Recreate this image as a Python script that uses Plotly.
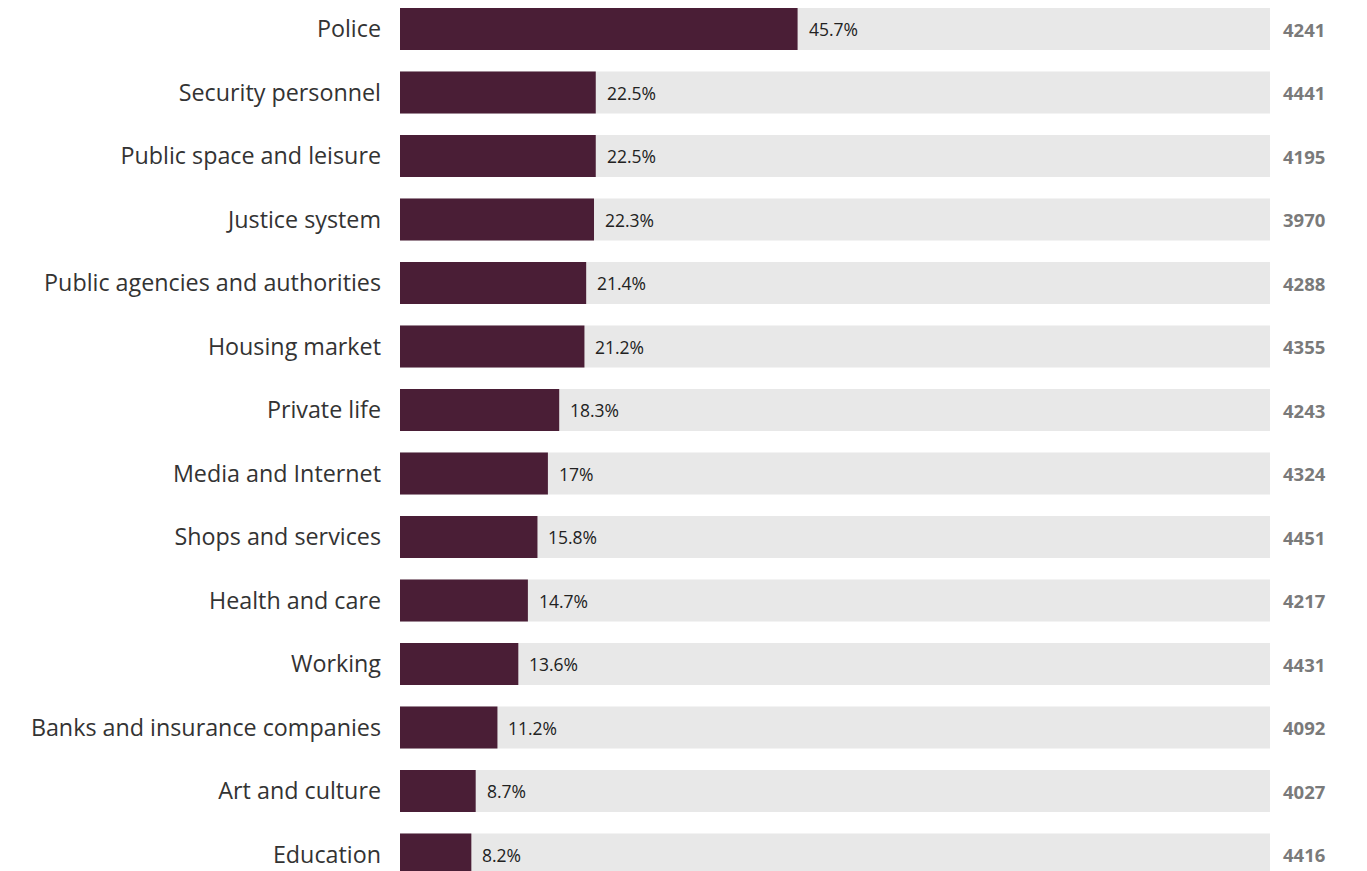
import plotly.graph_objects as go

categories = [
    "Police", "Security personnel", "Public space and leisure", "Justice system",
    "Public agencies and authorities", "Housing market", "Private life",
    "Media and Internet", "Shops and services", "Health and care", "Working",
    "Banks and insurance companies", "Art and culture", "Education",
]
shares = [45.7, 22.5, 22.5, 22.3, 21.4, 21.2, 18.3, 17, 15.8, 14.7, 13.6, 11.2, 8.7, 8.2]
counts = [4241, 4441, 4195, 3970, 4288, 4355, 4243, 4324, 4451, 4217, 4431, 4092, 4027, 4416]

BAR = "#4a1e36"
TRACK = "#e8e8e8"
FONT = "Open Sans"

fig = go.Figure()
fig.add_trace(go.Bar(
    y=categories, x=[100] * len(categories), orientation="h",
    marker=dict(color=TRACK, line=dict(width=0)), width=0.66,
    hoverinfo="skip", showlegend=False,
))
fig.add_trace(go.Bar(
    y=categories, x=shares, orientation="h",
    marker=dict(color=BAR, line=dict(width=0)), width=0.66,
    showlegend=False,
))

annotations = []
for cat, s, n in zip(categories, shares, counts):
    annotations.append(dict(
        x=s, y=cat, xref="x", yref="y", text=f"{s:g}%", showarrow=False,
        xanchor="left", xshift=9, font=dict(family=FONT, size=17.5, color="#222222"),
    ))
    annotations.append(dict(
        x=100, y=cat, xref="x", yref="y", text=f"<b>{n}</b>", showarrow=False,
        xanchor="left", xshift=11, font=dict(family=FONT, size=18.5, color="#7a7a7a"),
    ))

row_px = 63.5
height = 871
top = -29 / row_px
span = height / row_px

fig.update_layout(
    width=1367, height=height,
    margin=dict(l=400, r=97, t=0, b=0),
    barmode="overlay",
    plot_bgcolor="white", paper_bgcolor="white",
    annotations=annotations,
    font=dict(family=FONT),
)
fig.update_xaxes(range=[0, 100], visible=False, fixedrange=True)
fig.update_yaxes(
    type="category", categoryorder="array", categoryarray=categories,
    range=[top + span, top], showgrid=False, zeroline=False, showline=False,
    ticks="", ticklabelstandoff=18,
    tickfont=dict(family=FONT, size=23.3, color="#333333"),
)

fig.write_html("out.html")
